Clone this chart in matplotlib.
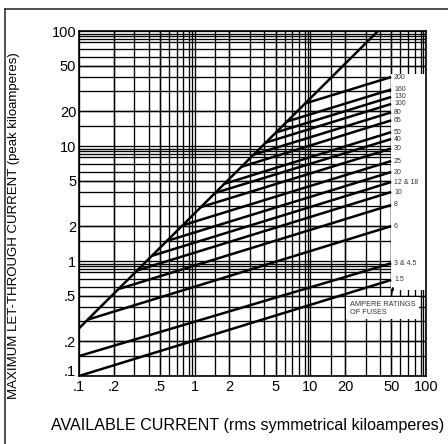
import numpy as np
import matplotlib.pyplot as plt
from matplotlib.patches import Rectangle
from matplotlib.lines import Line2D
from matplotlib.ticker import FixedLocator, NullLocator

plt.rcParams['font.family'] = ['Liberation Sans', 'DejaVu Sans']

### DATA ######################################################################
tick_vals   = [0.1, 0.2, 0.5, 1, 2, 5, 10, 20, 50, 100]
tick_labels = ['.1', '.2', '.5', '1', '2', '5', '10', '20', '50', '100']

# grid lines inside each decade (multipliers)
xgrid_first = [2, 3, 4, 5, 6, 7, 8, 9, 9.5]
xgrid_mult  = [1.5, 2, 3, 4, 5, 6, 7, 8, 9, 9.5]
ygrid_mult  = [1.5, 2, 3, 4, 5, 6, 7, 8, 8.5, 9, 9.5]

# peak let-through of unlimited current (diagonal)
diag_x = [0.1, 38.5]
diag_y = [0.26, 100]

# fuse ratings: start point, end value at 50 kA
ratings = ['200', '160', '130', '100', '80', '65', '50', '40', '30', '25', '20',
           '12 & 18', '10', '8', '6', '3 & 4.5', '1.5']
x_start = [9.0, 6.25, 5.03, 4.11, 3.22, 2.55, 1.82, 1.49, 1.13, 0.785, 0.571,
           0.428, 0.320, 0.219, 0.119, 0.1, 0.1]
y_start = [23.4, 16.3, 13.1, 10.7, 8.4, 6.6, 4.7, 3.9, 2.94, 2.04, 1.49,
           1.11, 0.83, 0.57, 0.309, 0.149, 0.1]
x_end = 50
y_end = [39.8, 31.0, 26.7, 23.2, 19.6, 16.7, 13.2, 11.5, 9.5, 7.4, 5.94,
         4.86, 3.98, 3.07, 2.01, 0.955, 0.684]

###############################################################################
fig = plt.figure(figsize=(4.48, 4.44), dpi=100)
ax = fig.add_axes([79/448, 1-376/444, 347/448, 345/444])
ax.set_xscale('log')
ax.set_yscale('log')
ax.set_xlim(0.1, 100)
ax.set_ylim(0.1, 100)

# grid
xg = [0.1*m for m in xgrid_first] + [d*m for d in (1, 10) for m in xgrid_mult]
yg = [d*m for d in (0.1, 1, 10) for m in ygrid_mult]
for v in xg + tick_vals:
    ax.axvline(v, color='black', lw=0.95, zorder=0.5)
for v in yg + tick_vals:
    ax.axhline(v, color='black', lw=0.95, zorder=0.5)

ax.xaxis.set_major_locator(FixedLocator(tick_vals))
ax.yaxis.set_major_locator(FixedLocator(tick_vals))
ax.set_xticklabels(tick_labels)
ax.set_yticklabels(tick_labels)
ax.xaxis.set_minor_locator(NullLocator())
ax.yaxis.set_minor_locator(NullLocator())
ax.tick_params(length=0, labelsize=10.5)
ax.tick_params(axis='x', pad=3)
ax.tick_params(axis='y', pad=2)
ax.get_yticklabels()[0].set_va('baseline')
for s in ax.spines.values():
    s.set_linewidth(1.2)

# white box for rating labels
ax.add_patch(Rectangle((50, 0.56), 50, 42.3-0.56, facecolor='white',
                       edgecolor='none', zorder=1))

# curves
ax.plot(diag_x, diag_y, color='black', lw=1.8, zorder=2, solid_capstyle='butt')
for i in range(len(ratings)):
    ax.plot([x_start[i], x_end], [y_start[i], y_end[i]], color='black', lw=1.8,
            zorder=2, solid_capstyle='butt')
    ax.text(53, y_end[i], ratings[i], fontsize=5, color='#333333',
            va='center', ha='left', zorder=3)

ax.annotate('AMPERE RATINGS\nOF FUSES', xy=(52, 0.6), xytext=(22, 0.39),
            fontsize=5.3, color='#333333', va='center', ha='left',
            linespacing=1.2,
            bbox=dict(facecolor='white', edgecolor='none', pad=2.5),
            arrowprops=dict(arrowstyle='-|>', color='black', lw=0.8,
                            mutation_scale=4, shrinkA=0, shrinkB=0,
                            relpos=(0.62, 1.0)),
            zorder=3)

fig.text(14/448, 1-226/444, 'MAXIMUM LET-THROUGH CURRENT (peak kiloamperes)',
         rotation=90, ha='center', va='center', fontsize=9.5)
fig.text(248/448, 1-425/444, 'AVAILABLE CURRENT (rms symmetrical kiloamperes)',
         ha='center', va='center', fontsize=11.6)

# outer frame (top and left edges)
fig.add_artist(Line2D([5/448, 1], [1-9/444, 1-9/444], color='#333333', lw=1.2))
fig.add_artist(Line2D([5/448, 5/448], [0, 1-9/444], color='#333333', lw=1.2))

fig.savefig('out.png', dpi=100)
